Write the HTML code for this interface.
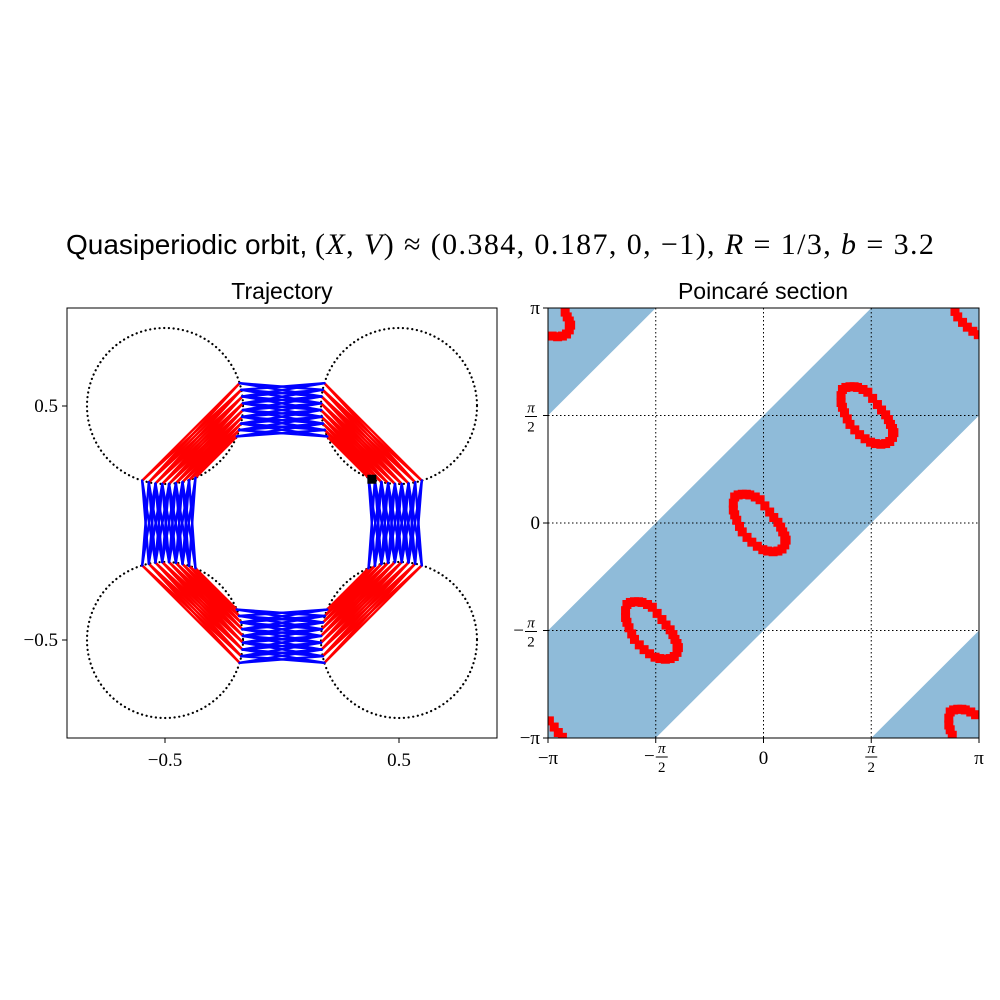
<!DOCTYPE html>
<html><head><meta charset="utf-8"><style>
html,body{margin:0;padding:0;background:#fff;}
svg{display:block;}
text{font-family:"Liberation Serif",serif;fill:#000;}
.sans{font-family:"Liberation Sans",sans-serif;}
</style></head><body>
<svg id="fig" width="1000" height="1000" viewBox="0 0 1000 1000">
  <text class="sans" x="66" y="254" font-size="28">Quasiperiodic orbit, <tspan font-family="Liberation Serif" font-size="30" letter-spacing="1.4">(<tspan font-style="italic">X</tspan>, <tspan font-style="italic">V</tspan>) ≈ (0.384, 0.187, 0, −1), <tspan font-style="italic">R</tspan> = 1/3, <tspan font-style="italic">b</tspan> = 3.2</tspan></text>
  <text class="sans" x="282" y="299" font-size="23" text-anchor="middle">Trajectory</text>
  <text class="sans" x="763" y="299" font-size="23" text-anchor="middle">Poincaré section</text>
  <defs>
    <clipPath id="clipL"><rect x="67" y="308" width="430" height="430"/></clipPath>
    <clipPath id="clipR"><rect x="548" y="308" width="431" height="430"/></clipPath>
  </defs>
  <g id="left"></g>
  <g id="right"></g>
</svg>
<script>
// ---- Trajectory data ----
const circleX = [-0.5, 0.5, 0.5, -0.5];
const circleY = [0.5, 0.5, -0.5, -0.5];
const radius = 1/3;
const portDeg = [17, 12, 7, 2, -3, -8, -13, -18, -23];
const blueShifts = [1, -1, 2, -2];
const redShifts = [0, 1, -1];
const startX = 0.384, startY = 0.187;
// ---- Poincare data ----
const orbitPhi = [-0.42,-0.37,-0.31,-0.25,-0.20,-0.12,-0.05,0.02,0.09,0.15,0.21,0.25,0.28,0.31,0.33,0.31,0.27,0.21,0.14,0.06,-0.01,-0.09,-0.17,-0.24,-0.31,-0.35,-0.39,-0.42,-0.44,-0.44];
const orbitPsi = [0.38,0.41,0.42,0.42,0.41,0.38,0.34,0.25,0.16,0.08,0.01,-0.06,-0.13,-0.19,-0.25,-0.32,-0.38,-0.41,-0.42,-0.41,-0.39,-0.34,-0.28,-0.21,-0.13,-0.05,0.04,0.12,0.19,0.29];
const copyShiftX = [0, Math.PI/2, -Math.PI/2, Math.PI];
const copyShiftY = [0, Math.PI/2, -Math.PI/2, Math.PI];
const xTickLabelsL = ["−0.5", "0.5"];
const xTickValsL = [-0.5, 0.5];

const NS = "http://www.w3.org/2000/svg";
function mk(tag, attrs, parent){const e=document.createElementNS(NS,tag);for(const k in attrs)e.setAttribute(k,attrs[k]);parent.appendChild(e);return e;}

const L = document.getElementById('left');
const sx = v => 282 + v*234, sy = v => 523 - v*234;
const gl = mk('g',{'clip-path':'url(#clipL)'},L);


for(let c=0;c<4;c++){
  const e = mk('circle',{cx:sx(circleX[c]),cy:sy(circleY[c]),r:radius*234,fill:'none',stroke:'#000','stroke-width':2.2,'stroke-dasharray':'0.1 4.6','stroke-linecap':'round'},gl);
  
  
}
function pt(c, deg){
  const mx = circleX[c] < 0 ? 1 : -1, my = circleY[c] > 0 ? 1 : -1;
  const a = deg*Math.PI/180;
  return [circleX[c] + mx*radius*Math.cos(a), circleY[c] + my*radius*Math.sin(a)];
}
const n = portDeg.length;
function seg(p,q,color,name){
  const e = mk('line',{x1:sx(p[0]),y1:sy(p[1]),x2:sx(q[0]),y2:sy(q[1]),stroke:color,'stroke-width':2.4,'stroke-linecap':'round'},gl);
  
  
}
for(let c=0;c<4;c++) for(let i=0;i<n;i++) for(const s of redShifts){
  const j=i+s; if(j<0||j>=n) continue;
  seg(pt(c,portDeg[i]), pt(c,-90-portDeg[j]), '#ff0000','chord-inside-circle');
}
const channels = [[0,1,'top'],[3,2,'top'],[0,3,'side'],[1,2,'side']];
for(const [a,b,kind] of channels) for(let i=0;i<n;i++) for(const s of blueShifts){
  const j=i+s; if(j<0||j>=n) continue;
  const da = kind==='top'?portDeg[i]:-90-portDeg[i];
  const db = kind==='top'?portDeg[j]:-90-portDeg[j];
  seg(pt(a,da), pt(b,db), '#0000ff','channel-segment');
}
const st = mk('rect',{x:sx(startX)-4.5,y:sy(startY)-4.5,width:9,height:9,fill:'#000'},L);


const fl = mk('rect',{x:67,y:308,width:430,height:430,fill:'none',stroke:'#000','stroke-width':1},L);


xTickValsL.forEach((v,k)=>{
  mk('line',{x1:sx(v),y1:738,x2:sx(v),y2:743,stroke:'#000'},L);
  const t=mk('text',{x:sx(v),y:766,'font-size':19,'text-anchor':'middle'},L); t.textContent=xTickLabelsL[k];
  
  
  mk('line',{x1:62,y1:sy(v),x2:67,y2:sy(v),stroke:'#000'},L);
  const u=mk('text',{x:58,y:sy(v)+6,'font-size':19,'text-anchor':'end'},L); u.textContent=xTickLabelsL[k];
  
  
});

const Rg = document.getElementById('right');
const px = v => 763.5 + v*215.5/Math.PI, py = v => 523 - v*215/Math.PI;
const P = Math.PI;
const gr = mk('g',{'clip-path':'url(#clipR)'},Rg);
const band = [[-P,-P],[-P,-P/2],[P/2,P],[P,P],[P,P/2],[-P/2,-P]];
const poly = (pts,name)=>{const e=mk('polygon',{points:pts.map(p=>px(p[0])+','+py(p[1])).join(' '),fill:'#8fbbd9'},gr);};
poly(band,'allowed-band');
poly([[-P,P],[-P/2,P],[-P,P/2]],'allowed-corner-top');
poly([[P,-P],[P/2,-P],[P,-P/2]],'allowed-corner-bottom');
[-P/2,0,P/2].forEach(v=>{
  mk('line',{x1:px(v),y1:308,x2:px(v),y2:738,stroke:'#000','stroke-width':1,'stroke-dasharray':'1.5 2.5'},gr);
  mk('line',{x1:548,y1:py(v),x2:979,y2:py(v),stroke:'#000','stroke-width':1,'stroke-dasharray':'1.5 2.5'},gr);
});
const wrap = v => { while(v>P) v-=2*P; while(v<-P) v+=2*P; return v; };
for(let c=0;c<copyShiftX.length;c++) for(let i=0;i<orbitPhi.length;i++){
  const x = wrap(orbitPhi[i]+copyShiftX[c]), y = wrap(orbitPsi[i]+copyShiftY[c]);
  const e = mk('rect',{x:px(x)-4.5,y:py(y)-4.5,width:9,height:9,fill:'#ff0000'},gr);
  
  
}
const fr = mk('rect',{x:548,y:308,width:431,height:430,fill:'none',stroke:'#000','stroke-width':1},Rg);


const piVals = [-P,-P/2,0,P/2,P];
const piLabels = ["−π","−π/2","0","π/2","π"];
function label(x,y,s,anchor){
  const g = mk('g',{},Rg);
  if(s.includes('/')){
    const neg = s.startsWith('−');
    const off = anchor==='end' ? -9 : 0;
    const cx = x + off + (neg && anchor!=='end' ? 6 : 0);
    if(neg){const m=mk('text',{x:cx-7,y:y,'font-size':19,'text-anchor':'end'},g);m.textContent='−';}
    const a=mk('text',{x:cx,y:y-9,'font-size':15,'font-style':'italic','text-anchor':'middle'},g);a.textContent='π';
    mk('line',{x1:cx-6,y1:y-5,x2:cx+6,y2:y-5,stroke:'#000','stroke-width':1},g);
    const b=mk('text',{x:cx,y:y+10,'font-size':15,'text-anchor':'middle'},g);b.textContent='2';
  } else {
    const t=mk('text',{x:x,y:y,'font-size':19,'text-anchor':anchor},g);t.textContent=s;
  }
  return g;
}
piVals.forEach((v,k)=>{
  mk('line',{x1:px(v),y1:738,x2:px(v),y2:743,stroke:'#000'},Rg);
  const g=label(px(v),piLabels[k].includes('/')?762:764,piLabels[k],'middle');
  
  
  mk('line',{x1:543,y1:py(v),x2:548,y2:py(v),stroke:'#000'},Rg);
  const h=label(540,py(v)+6,piLabels[k],'end');
  
  
});
</script>
</body></html>
